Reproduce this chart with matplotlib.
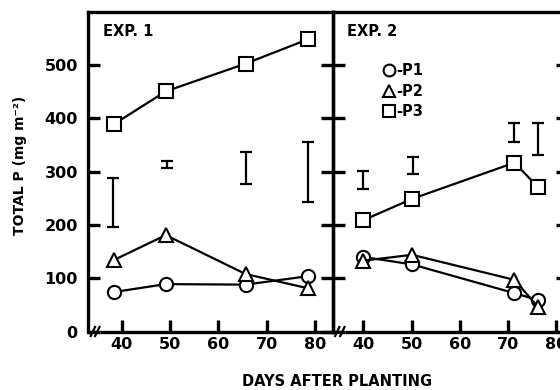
import matplotlib
matplotlib.use("Agg")
import matplotlib.pyplot as plt
from matplotlib.lines import Line2D
import numpy as np

# ---- data ----
days_exp1 = [38.3, 49.1, 65.6, 78.6]
p1_exp1 = [74, 89, 88, 104]
p2_exp1 = [134, 181, 108, 81]
p3_exp1 = [389, 451, 503, 549]
lsd_days_exp1 = [38.2, 49.4, 65.8, 78.5]
lsd_low_exp1 = [197, 307, 277, 244]
lsd_high_exp1 = [289, 320, 337, 356]

days_exp2 = [40.0, 50.1, 71.3, 76.2]
p1_exp2 = [140, 126, 72, 59]
p2_exp2 = [133, 144, 97, 46]
p3_exp2 = [209, 249, 317, 271]
lsd_days_exp2 = [40.0, 50.3, 71.3, 76.2]
lsd_low_exp2 = [267, 296, 355, 332]
lsd_high_exp2 = [301, 327, 391, 392]

xticks = [40, 50, 60, 70, 80]
yticks = [0, 100, 200, 300, 400, 500]
series_labels = ["-P1", "-P2", "-P3"]

plt.rcParams['font.family'] = ['DejaVu Sans']
plt.rcParams['font.weight'] = 'bold'

W, H = 560, 390
fig = plt.figure(figsize=(W / 100, H / 100), dpi=100)

def frac_x(px):
    return px / W

def frac_y(py):
    return (H - py) / H

top_px, bot_px = 12, 331.5
axL = fig.add_axes([frac_x(87.5), frac_y(bot_px), (333 - 87.5) / W, (bot_px - top_px) / H])
axR = fig.add_axes([frac_x(333), frac_y(bot_px), (568 - 333) / W, (bot_px - top_px) / H])

SPW = 2.4
LW = 1.6
MS = 9.5
MEW = 1.5

def style(ax, xlim):
    ax.set_xlim(*xlim)
    ax.set_ylim(0, 600)
    for s in ax.spines.values():
        s.set_linewidth(SPW)
    ax.spines['bottom'].set_visible(False)
    ax.set_xticks(xticks)
    ax.set_yticks(yticks)
    ax.tick_params(axis='both', direction='in', length=8.5, width=SPW)
    ax.tick_params(axis='y', left=True, right=True, pad=7)
    ax.tick_params(axis='x', top=False, bottom=True, pad=4)
    for lab in ax.get_xticklabels() + ax.get_yticklabels():
        lab.set_fontsize(11.5)
        lab.set_fontweight('bold')
    ax.patch.set_alpha(0)

def draw(ax, days, p1, p2, p3, ld, lo, hi):
    ax.plot(days, p1, '-', color='black', lw=LW, marker='o', ms=MS, mfc='white', mec='black', mew=MEW, zorder=3, clip_on=False)
    ax.plot(days, p2, '-', color='black', lw=LW, marker='^', ms=MS, mfc='white', mec='black', mew=MEW, zorder=3, clip_on=False)
    ax.plot(days, p3, '-', color='black', lw=LW, marker='s', ms=MS, mfc='white', mec='black', mew=MEW, zorder=3, clip_on=False)
    lo = np.array(lo, float)
    hi = np.array(hi, float)
    mid = (lo + hi) / 2
    half = (hi - lo) / 2
    ax.errorbar(ld, mid, yerr=half, fmt='none', ecolor='black', elinewidth=LW, capsize=4, capthick=LW)

def bottom_line(ax, start_frac, slashes):
    ax.plot([start_frac, 1.0], [0, 0], transform=ax.transAxes, color='black', lw=SPW, clip_on=False, solid_capstyle='butt')
    for sx in slashes:
        ax.plot([sx - 0.009, sx + 0.009], [-0.014, 0.014], transform=ax.transAxes, color='black', lw=1.6, clip_on=False)

style(axL, (32.9, 83.7))
style(axR, (33.73, 82.4))
axR.set_yticklabels([])

draw(axL, days_exp1, p1_exp1, p2_exp1, p3_exp1, lsd_days_exp1, lsd_low_exp1, lsd_high_exp1)
draw(axR, days_exp2, p1_exp2, p2_exp2, p3_exp2, lsd_days_exp2, lsd_low_exp2, lsd_high_exp2)

bottom_line(axL, 0.05, [0.022, 0.040])
bottom_line(axR, 0.05, [0.018, 0.040])

axL.text(0.063, 0.962, "EXP. 1", transform=axL.transAxes, ha='left', va='top', fontsize=10.5, fontweight='bold')
axR.text(0.06, 0.962, "EXP. 2", transform=axR.transAxes, ha='left', va='top', fontsize=10.5, fontweight='bold')

handles = [
    Line2D([], [], ls='none', marker='o', ms=8.5, mfc='white', mec='black', mew=MEW),
    Line2D([], [], ls='none', marker='^', ms=8.5, mfc='white', mec='black', mew=MEW),
    Line2D([], [], ls='none', marker='s', ms=8.5, mfc='white', mec='black', mew=MEW),
]
axR.legend(handles, series_labels, loc='upper left', bbox_to_anchor=(0.215, 0.84), frameon=False,
           handlelength=0.7, handletextpad=0.2, labelspacing=0.38, borderpad=0, borderaxespad=0,
           prop=dict(size=10.5, weight='bold'))

fig.text(frac_x(20), frac_y(165), "TOTAL P (mg m\u207b\u00b2)", rotation=90, ha='center', va='center',
         fontsize=10, fontweight='bold')
fig.text(frac_x(337), frac_y(382), "DAYS AFTER PLANTING", ha='center', va='center',
         fontsize=10.5, fontweight='bold')

fig.savefig("out.png", dpi=100)
